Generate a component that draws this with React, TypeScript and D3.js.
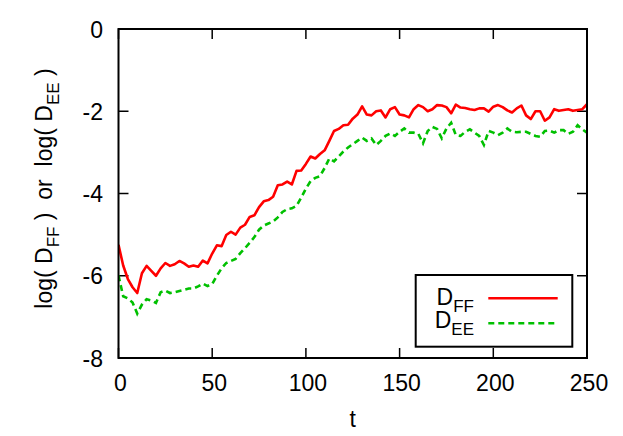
import React from "react";
import * as d3 from "d3";

const tValues: number[] = d3.range(0, 250.001, 2.5);

const dFF: number[] = [
  -5.25, -5.75, -6.08, -6.28, -6.42, -5.94, -5.76, -5.88, -6.0, -5.82,
  -5.69, -5.76, -5.72, -5.64, -5.7, -5.78, -5.75, -5.78, -5.63, -5.7,
  -5.46, -5.26, -5.28, -5.01, -4.93, -5.0, -4.83, -4.76, -4.57, -4.53,
  -4.33, -4.19, -4.16, -4.08, -3.8, -3.78, -3.71, -3.78, -3.45, -3.44,
  -3.28, -3.1, -3.15, -3.04, -2.95, -2.72, -2.48, -2.43, -2.34, -2.33,
  -2.18, -2.08, -1.88, -2.08, -2.1, -2.0, -1.98, -2.15, -1.95, -1.9,
  -2.08, -2.1, -2.15, -1.95, -1.85, -1.9, -2.0, -1.95, -1.85, -1.86,
  -1.9, -2.05, -1.84, -1.91, -1.92, -1.95, -1.97, -1.93, -1.93, -2.01,
  -1.89, -1.85, -1.9, -1.98, -2.03, -1.93, -1.86, -2.1, -2.19, -2.0,
  -2.0, -2.23, -2.15, -1.95, -1.99, -1.97, -1.95, -1.99, -1.97, -1.95,
  -1.83,
];

const dEE: number[] = [
  -5.99, -6.5, -6.55, -6.65, -6.92, -6.7, -6.57, -6.6, -6.66, -6.4,
  -6.36, -6.42, -6.4, -6.37, -6.34, -6.31, -6.31, -6.26, -6.19, -6.25,
  -6.2, -6.0, -5.82, -5.69, -5.64, -5.59, -5.45, -5.33, -5.2, -5.06,
  -4.88, -4.78, -4.73, -4.68, -4.58, -4.45, -4.38, -4.36, -4.3, -4.1,
  -3.88, -3.7, -3.62, -3.58, -3.38, -3.15, -3.22, -3.1, -2.98, -2.88,
  -2.8, -2.72, -2.64, -2.72, -2.66, -2.82, -2.72, -2.6, -2.54, -2.6,
  -2.5, -2.42, -2.52, -2.52, -2.55, -2.78, -2.48, -2.38, -2.43, -2.66,
  -2.42, -2.28, -2.58, -2.6, -2.5, -2.44, -2.52, -2.6, -2.82, -2.48,
  -2.52, -2.58, -2.52, -2.42, -2.5, -2.51, -2.5, -2.5, -2.55, -2.6,
  -2.62, -2.48, -2.47, -2.52, -2.46, -2.46, -2.55, -2.5, -2.34, -2.44,
  -2.52,
];

const xTicks: number[] = [0, 50, 100, 150, 200, 250];
const yTicks: number[] = [0, -2, -4, -6, -8];

const W = 623;
const H = 436;
const M = { left: 118.5, right: 587, top: 29, bottom: 358 };
const FONT = "'Liberation Sans', Arial, Helvetica, sans-serif";
const RED = "#ff0000";
const GREEN = "#00c000";

export default function App() {
  const x = d3.scaleLinear().domain([0, 250]).range([M.left, M.right]);
  const y = d3.scaleLinear().domain([-8, 0]).range([M.bottom, M.top]);

  const line = d3
    .line<number>()
    .x((_, i) => x(tValues[i]))
    .y((d) => y(d));

  const tickLen = 10;

  return (
    <svg
      width={W}
      height={H}
      style={{ position: "absolute", left: 0, top: 0, background: "#fff" }}
      fontFamily={FONT}
    >
      <rect x={0} y={0} width={W} height={H} fill="#fff" />
      <defs>
        <clipPath id="plotclip">
          <rect x={M.left} y={M.top} width={M.right - M.left} height={M.bottom - M.top} />
        </clipPath>
      </defs>

      {/* ticks */}
      {xTicks.map((t) => (
        <g key={"xt" + t}>
          <line x1={x(t)} x2={x(t)} y1={M.bottom} y2={M.bottom - tickLen} stroke="#000" strokeWidth={1.5} />
          <line x1={x(t)} x2={x(t)} y1={M.top} y2={M.top + tickLen} stroke="#000" strokeWidth={1.5} />
          <text x={x(t) + 2} y={391} fontSize={23} textAnchor="middle" fill="#000">
            {t}
          </text>
        </g>
      ))}
      {yTicks.map((v) => (
        <g key={"yt" + v}>
          <line x1={M.left} x2={M.left + tickLen} y1={y(v)} y2={y(v)} stroke="#000" strokeWidth={1.5} />
          <line x1={M.right} x2={M.right - tickLen} y1={y(v)} y2={y(v)} stroke="#000" strokeWidth={1.5} />
          <text x={103} y={y(v) + 8.5} fontSize={23} textAnchor="end" fill="#000">
            {v === 0 ? "0" : "-" + Math.abs(v)}
          </text>
        </g>
      ))}

      {/* series */}
      <g clipPath="url(#plotclip)">
        <path d={line(dEE) || ""} fill="none" stroke={GREEN} strokeWidth={2.6} strokeDasharray="6,4" />
        <path d={line(dFF) || ""} fill="none" stroke={RED} strokeWidth={2.6} strokeLinejoin="round" />
      </g>

      {/* frame */}
      <rect
        x={M.left}
        y={M.top}
        width={M.right - M.left}
        height={M.bottom - M.top}
        fill="none"
        stroke="#000"
        strokeWidth={2}
      />

      {/* legend */}
      <rect x={415.7} y={275} width={156.6} height={71.7} fill="#fff" stroke="#000" strokeWidth={2} />
      <text x={474} y={305} fontSize={23} textAnchor="end" fill="#000">
        D<tspan fontSize={17} dy={6.5}>FF</tspan>
      </text>
      <line x1={488.3} x2={557.7} y1={298.3} y2={298.3} stroke={RED} strokeWidth={2.6} />
      <text x={474} y={328.3} fontSize={23} textAnchor="end" fill="#000">
        D<tspan fontSize={17} dy={6.5}>EE</tspan>
      </text>
      <line x1={488.3} x2={557.7} y1={323.3} y2={323.3} stroke={GREEN} strokeWidth={2.6} strokeDasharray="6,4" />

      {/* axis titles */}
      <text x={352.7} y={427} fontSize={23} textAnchor="middle" fill="#000">
        t
      </text>
      <text
        transform={`translate(52, 188.5) rotate(-90)`}
        fontSize={23}
        textAnchor="middle"
        fill="#000"
        xmlSpace="preserve"
        style={{ whiteSpace: "pre" }}
      >
        {"log( D"}
        <tspan fontSize={17} dy={6.5}>FF</tspan>
        <tspan dy={-6.5}>{" )  or  log( D"}</tspan>
        <tspan fontSize={17} dy={6.5}>EE</tspan>
        <tspan dy={-6.5}>{" )"}</tspan>
      </text>
    </svg>
  );
}
